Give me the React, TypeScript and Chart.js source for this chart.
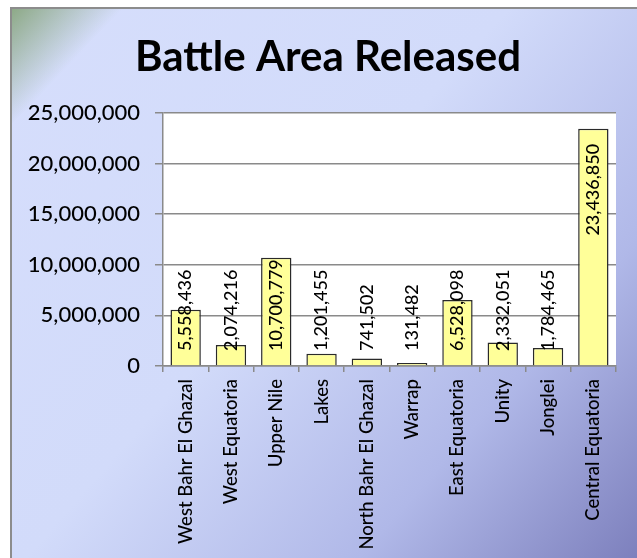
import React, { useEffect, useRef } from "react";
import { Chart, registerables } from "chart.js";

Chart.register(...registerables);

const TITLE = "Battle Area Released";
const categories = [
  "West Bahr El Ghazal",
  "West Equatoria",
  "Upper Nile",
  "Lakes",
  "North Bahr El Ghazal",
  "Warrap",
  "East Equatoria",
  "Unity",
  "Jonglei",
  "Central Equatoria",
];
const values = [5558436, 2074216, 10700779, 1201455, 741502, 131482, 6528098, 2332051, 1784465, 23436850];
const yMin = 0;
const yMax = 25000000;
const yStep = 5000000;

const FONT = "Lato, 'Open Sans', sans-serif";
const fmt = (v: number) => Math.round(v).toLocaleString("en-US");

const bgPlugin = {
  id: "bgPlugin",
  beforeDraw(chart: any) {
    const { ctx, width, height, chartArea } = chart;
    ctx.save();
    ctx.fillStyle = "#ffffff";
    ctx.fillRect(0, 0, width, height);
    const x0 = 10, y0 = 7;
    const g = ctx.createLinearGradient(x0, y0, width, height);
    g.addColorStop(0, "#d6defc");
    g.addColorStop(0.45, "#d2dbfa");
    g.addColorStop(0.75, "#b0b8e8");
    g.addColorStop(1, "#7d80bd");
    ctx.fillStyle = g;
    ctx.fillRect(x0, y0, width - x0, height - y0);
    const gg = ctx.createLinearGradient(x0, y0, 70, 64);
    gg.addColorStop(0, "rgba(135,165,125,0.95)");
    gg.addColorStop(1, "rgba(135,165,125,0)");
    ctx.fillStyle = gg;
    ctx.fillRect(x0, y0, 130, 120);
    ctx.strokeStyle = "#8c8c8c";
    ctx.lineWidth = 2;
    ctx.beginPath();
    ctx.moveTo(x0 + 1, height);
    ctx.lineTo(x0 + 1, y0 + 1);
    ctx.lineTo(width, y0 + 1);
    ctx.stroke();
    // plot area
    ctx.fillStyle = "#ffffff";
    ctx.fillRect(chartArea.left, chartArea.top, chartArea.right - chartArea.left, chartArea.bottom - chartArea.top);
    // title
    ctx.fillStyle = "#000000";
    ctx.font = `bold 42px ${FONT}`;
    ctx.textAlign = "center";
    ctx.textBaseline = "alphabetic";
    ctx.fillText(TITLE, 328, 71);
    ctx.restore();
  },
};

const labelPlugin = {
  id: "labelPlugin",
  afterDatasetsDraw(chart: any) {
    const { ctx } = chart;
    const meta = chart.getDatasetMeta(0);
    const yScale = chart.scales.y;
    const zeroY = yScale.getPixelForValue(0);
    ctx.save();
    ctx.font = `500 18px ${FONT}`;
    ctx.fillStyle = "#000000";
    ctx.textBaseline = "middle";
    meta.data.forEach((bar: any, i: number) => {
      const txt = fmt(values[i]);
      const w = ctx.measureText(txt).width;
      const h = zeroY - bar.y;
      ctx.save();
      if (h >= w + 30) {
        ctx.translate(bar.x, bar.y + 15);
        ctx.rotate(-Math.PI / 2);
        ctx.textAlign = "right";
      } else {
        ctx.translate(bar.x, zeroY - 15);
        ctx.rotate(-Math.PI / 2);
        ctx.textAlign = "left";
      }
      ctx.fillText(txt, 0, 0);
      ctx.restore();
    });
    ctx.restore();
  },
};

export default function App() {
  const ref = useRef<HTMLCanvasElement>(null);
  useEffect(() => {
    if (!ref.current) return;
    const chart = new Chart(ref.current, {
      type: "bar",
      data: {
        labels: categories,
        datasets: [
          {
            data: values,
            backgroundColor: "#ffff99",
            borderColor: "#2a2a2a",
            borderWidth: 1.5,
            categoryPercentage: 1,
            barPercentage: 0.67,
            minBarLength: 3,
          },
        ],
      },
      options: {
        responsive: false,
        animation: false,
        devicePixelRatio: 1,
        layout: { padding: { top: 113, right: 21, left: 0, bottom: 0 } },
        plugins: { legend: { display: false }, tooltip: { enabled: false }, title: { display: false } },
        scales: {
          x: {
            grid: { display: true, drawOnChartArea: false, offset: true, color: "#8a8a8a", lineWidth: 1.5, tickLength: 6 },
            border: { display: true, color: "#8a8a8a", width: 1.5 },
            ticks: {
              autoSkip: false,
              maxRotation: 90,
              minRotation: 90,
              padding: 7,
              color: "#000000",
              font: { family: FONT, size: 18.5, weight: "500" },
            },
            afterFit(scale: any) {
              scale.height = 558 - 366;
            },
          },
          y: {
            min: yMin,
            max: yMax,
            grid: { color: "#8a8a8a", lineWidth: 1.5, tickLength: 8 },
            border: { display: true, color: "#8a8a8a", width: 1.5 },
            ticks: {
              stepSize: yStep,
              padding: 15,
              color: "#000000",
              font: { family: FONT, size: 22, weight: "500" },
              callback: (v: any) => fmt(Number(v)),
            },
            afterFit(scale: any) {
              scale.width = 163;
            },
          },
        },
      },
      plugins: [bgPlugin, labelPlugin],
    });
    return () => chart.destroy();
  }, []);
  return (
    <div style={{ position: "absolute", left: 0, top: 0, width: 637, height: 558 }}>
      <canvas ref={ref} width={637} height={558} style={{ display: "block" }} />
    </div>
  );
}
